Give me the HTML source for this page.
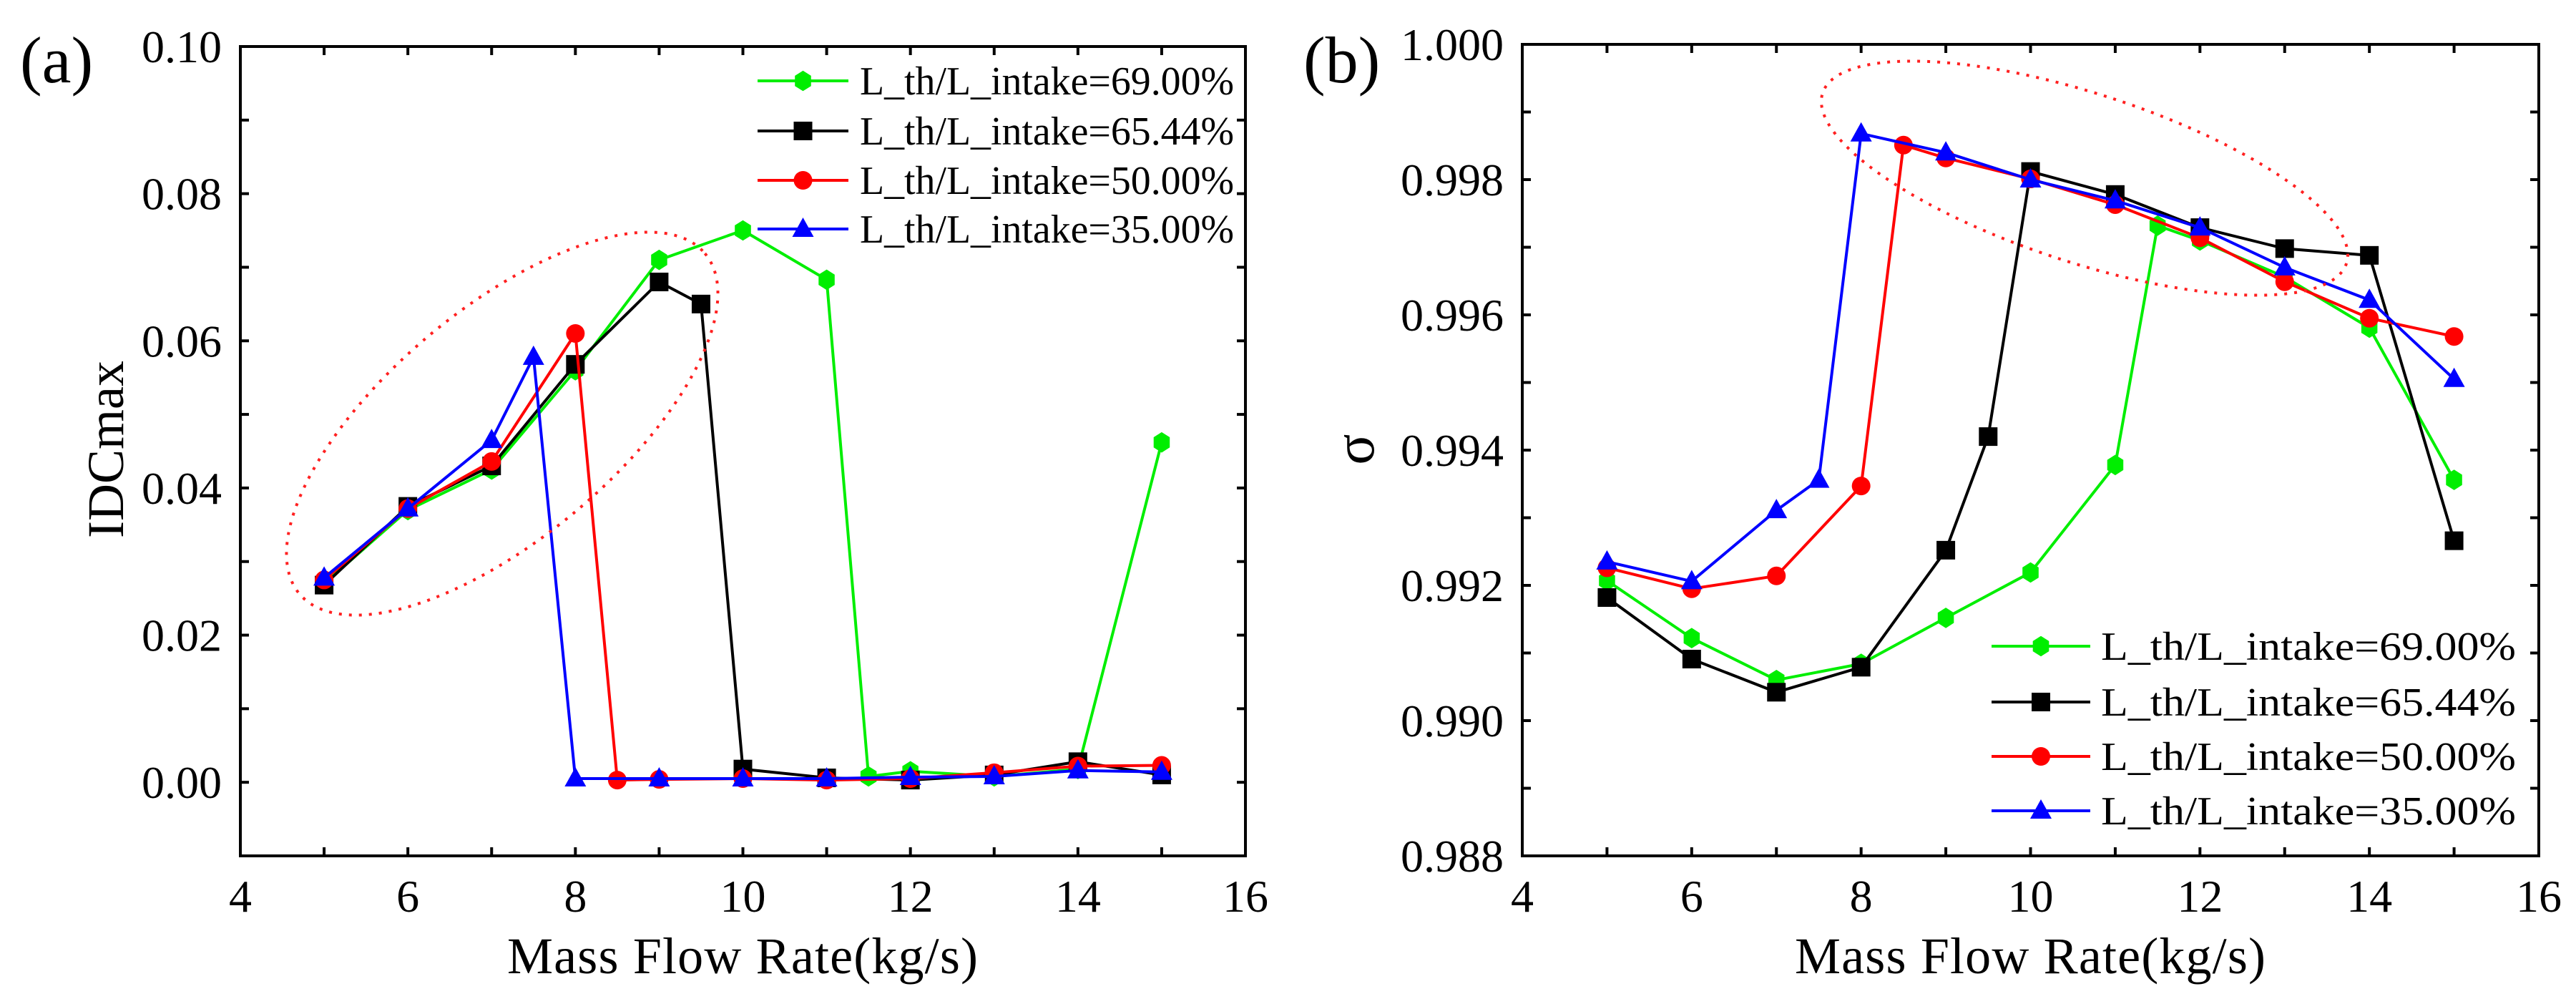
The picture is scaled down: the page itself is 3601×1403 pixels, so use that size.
<!DOCTYPE html>
<html><head><meta charset="utf-8"><style>
html,body{margin:0;padding:0;background:#fff}
svg{display:block}
text{font-family:"Liberation Serif",serif;fill:#000}
</style></head><body>
<svg id="chart" width="3601" height="1403" viewBox="0 0 3601 1403" xmlns="http://www.w3.org/2000/svg"></svg>
<script>
const xVals = [5,6,7,8,9,10,11,12,13,14,15];
// Panel (a) IDCmax
const aGreenX = [5,6,7,8,9,10,11,11.5,12,13,14,15];
const aGreenY = [0.0270,0.0370,0.0425,0.0560,0.0710,0.0750,0.0683,0.0008,0.0015,0.0008,0.0018,0.0462];
const aBlackX = [5,6,7,8,9,9.5,10,11,12,13,14,15];
const aBlackY = [0.0268,0.0375,0.0430,0.0568,0.0680,0.0650,0.0018,0.0006,0.0003,0.0010,0.0028,0.0010];
const aRedX = [5,6,7,8,8.5,9,10,11,12,13,14,15];
const aRedY = [0.0275,0.0372,0.0436,0.0610,0.0003,0.0004,0.0005,0.0003,0.0005,0.0013,0.0022,0.0023];
const aBlueX = [5,6,7,7.5,8,9,10,11,12,13,14,15];
const aBlueY = [0.0278,0.0372,0.0465,0.0578,0.0005,0.0005,0.0005,0.0005,0.0007,0.0008,0.0016,0.0014];
// Panel (b) sigma
const bGreenX = [5,6,7,8,9,10,11,11.5,12,13,14,15];
const bGreenY = [0.99207,0.99122,0.99060,0.99084,0.99152,0.99219,0.99378,0.99732,0.99710,0.99656,0.99581,0.99356];
const bBlackX = [5,6,7,8,9,9.5,10,11,12,13,14,15];
const bBlackY = [0.99182,0.99091,0.99042,0.99079,0.99252,0.99420,0.99812,0.99778,0.99729,0.99698,0.99688,0.99266];
const bRedX = [5,6,7,8,8.5,9,10,11,12,13,14,15];
const bRedY = [0.99226,0.99195,0.99214,0.99347,0.99851,0.99832,0.99801,0.99763,0.99714,0.99649,0.99595,0.99568];
const bBlueX = [5,6,7,7.5,8,9,10,11,12,13,14,15];
const bBlueY = [0.99235,0.99206,0.99311,0.99356,0.99868,0.99840,0.99800,0.99769,0.99729,0.99670,0.99622,0.99505];
const xTickLabels = ['4','6','8','10','12','14','16'];
const aYTickLabels = ['0.00','0.02','0.04','0.06','0.08','0.10'];
const bYTickLabels = ['0.988','0.990','0.992','0.994','0.996','0.998','1.000'];
const seriesNames = ['L_th/L_intake=69.00%','L_th/L_intake=65.44%','L_th/L_intake=50.00%','L_th/L_intake=35.00%'];
const seriesColors = ['#00ee00','#000000','#ff0000','#0000ff'];
const seriesMarkers = ['hex','square','circle','tri'];

const NS='http://www.w3.org/2000/svg';
const svg=document.getElementById('chart');
function mk(tag,attrs,parent){const e=document.createElementNS(NS,tag);for(const k in attrs)e.setAttribute(k,attrs[k]);(parent||svg).appendChild(e);return e;}

function marker(g,type,cx,cy,color){
  let e;const r=13;
  if(type==='circle') e=mk('circle',{cx:cx,cy:cy,r:r,fill:color},g);
  else if(type==='square') e=mk('rect',{x:cx-r,y:cy-r,width:2*r,height:2*r,fill:color},g);
  else if(type==='tri') e=mk('polygon',{points:`${cx},${cy-16} ${cx-15},${cy+11} ${cx+15},${cy+11}`,fill:color},g);
  else {let p=[];for(let i=0;i<6;i++){const a=Math.PI/6+i*Math.PI/3;p.push((cx+r*Math.cos(a)).toFixed(1)+','+(cy+r*1.1*Math.sin(a)).toFixed(1));}e=mk('polygon',{points:p.join(' '),fill:color},g);}
  return e;
}

function panel(cfg){
  const {L,R,T,B,xmin,xmax,ymin,ymax,yStep,yLabels,xs,ys,id}=cfg;
  const sx=v=>L+(v-xmin)/(xmax-xmin)*(R-L);
  const sy=v=>B-(v-ymin)/(ymax-ymin)*(B-T);
  const g=mk('g',{});
  
  
  const tl=12;
  for(let v=xmin;v<=xmax+1e-9;v+=1){
    const x=sx(v);
    const t1=mk('line',{x1:x,y1:B,x2:x,y2:B-tl,stroke:'#000','stroke-width':4},g);
    
    mk('line',{x1:x,y1:T,x2:x,y2:T+tl,stroke:'#000','stroke-width':4},g);
  }
  const nY=Math.round((ymax-ymin)/yStep);
  for(let i=0;i<=nY;i++){
    const y=sy(ymin+i*yStep);
    const t=mk('line',{x1:L,y1:y,x2:L+tl,y2:y,stroke:'#000','stroke-width':4},g);
    
    mk('line',{x1:R,y1:y,x2:R-tl,y2:y,stroke:'#000','stroke-width':4},g);
  }
  xTickLabels.forEach((s,i)=>{
    const t=mk('text',{x:sx(+s),y:B+78,'font-size':64,'text-anchor':'middle'},g);t.textContent=s;
    
  });
  yLabels.forEach((s,i)=>{
    const t=mk('text',{x:L-26,y:sy(+s)+22,'font-size':64,'text-anchor':'end'},g);t.textContent=s;
    
  });
  for(let k=0;k<4;k++){
    const sg=mk('g',{},g);
    
    
    const pts=xs[k].map((x,i)=>sx(x).toFixed(1)+','+sy(ys[k][i]).toFixed(1)).join(' ');
    mk('polyline',{points:pts,fill:'none',stroke:seriesColors[k],'stroke-width':4,'stroke-linejoin':'round'},sg);
    xs[k].forEach((x,i)=>{
      const m=marker(sg,seriesMarkers[k],sx(x),sy(ys[k][i]),seriesColors[k]);
      
      
    });
  }
  const fr=mk('rect',{x:L,y:T,width:R-L,height:B-T,fill:'none',stroke:'#000','stroke-width':4},g);
  
  return g;
}

panel({id:'a',L:336,R:1741,T:65,B:1196,xmin:4,xmax:16,ymin:-0.01,ymax:0.10,yStep:0.01,yLabels:aYTickLabels,
  xs:[aGreenX,aBlackX,aRedX,aBlueX],ys:[aGreenY,aBlackY,aRedY,aBlueY]});
panel({id:'b',L:2128,R:3549,T:62,B:1196,xmin:4,xmax:16,ymin:0.988,ymax:1.000,yStep:0.001,yLabels:bYTickLabels,
  xs:[bGreenX,bBlackX,bRedX,bBlueX],ys:[bGreenY,bBlackY,bRedY,bBlueY]});

function legend(id,x1,x2,tx,rows,textLen){
  for(let k=0;k<4;k++){
    const g=mk('g',{});
    
    
    mk('line',{x1:x1,y1:rows[k],x2:x2,y2:rows[k],stroke:seriesColors[k],'stroke-width':4},g);
    marker(g,seriesMarkers[k],(x1+x2)/2,rows[k],seriesColors[k]);
    const t=mk('text',{x:tx,y:rows[k]+19,'font-size':56,textLength:textLen,lengthAdjust:'spacingAndGlyphs'},g);
    t.textContent=seriesNames[k];
  }
}
legend('a',1059,1186,1202,[113,183,252,320],523);
legend('b',2784,2922,2937,[903,981,1057,1133],580);

function ell(name,cx,cy,a,b,ang){
  const e=mk('ellipse',{cx:cx,cy:cy,rx:a,ry:b,transform:`rotate(${ang} ${cx} ${cy})`,fill:'none',stroke:'#ff2020','stroke-width':4,'stroke-dasharray':'4 10'});
  
  
}
ell('highlight-ellipse-a',702,592,370,160,-40);
ell('highlight-ellipse-b',2914,249,385,118,18);

function txt(name,s,x,y,size,anchor,rot){
  const t=mk('text',{x:x,y:y,'font-size':size,'text-anchor':anchor||'start'});
  if(rot)t.setAttribute('transform',`rotate(${rot} ${x} ${y})`);
  t.textContent=s;
  
  
  return t;
}
txt('panel-label-a','(a)',28,115,92);
txt('panel-label-b','(b)',1822,115,92);
txt('x-axis-title-a','Mass Flow Rate(kg/s)',1038,1360,72,'middle').setAttribute('textLength',658);
txt('x-axis-title-b','Mass Flow Rate(kg/s)',2838,1360,72,'middle').setAttribute('textLength',658);
txt('y-axis-title-a','IDCmax',172,628,72,'middle',-90);
txt('y-axis-title-b','σ',1920,628,80,'middle',-90);
</script>
</body></html>
